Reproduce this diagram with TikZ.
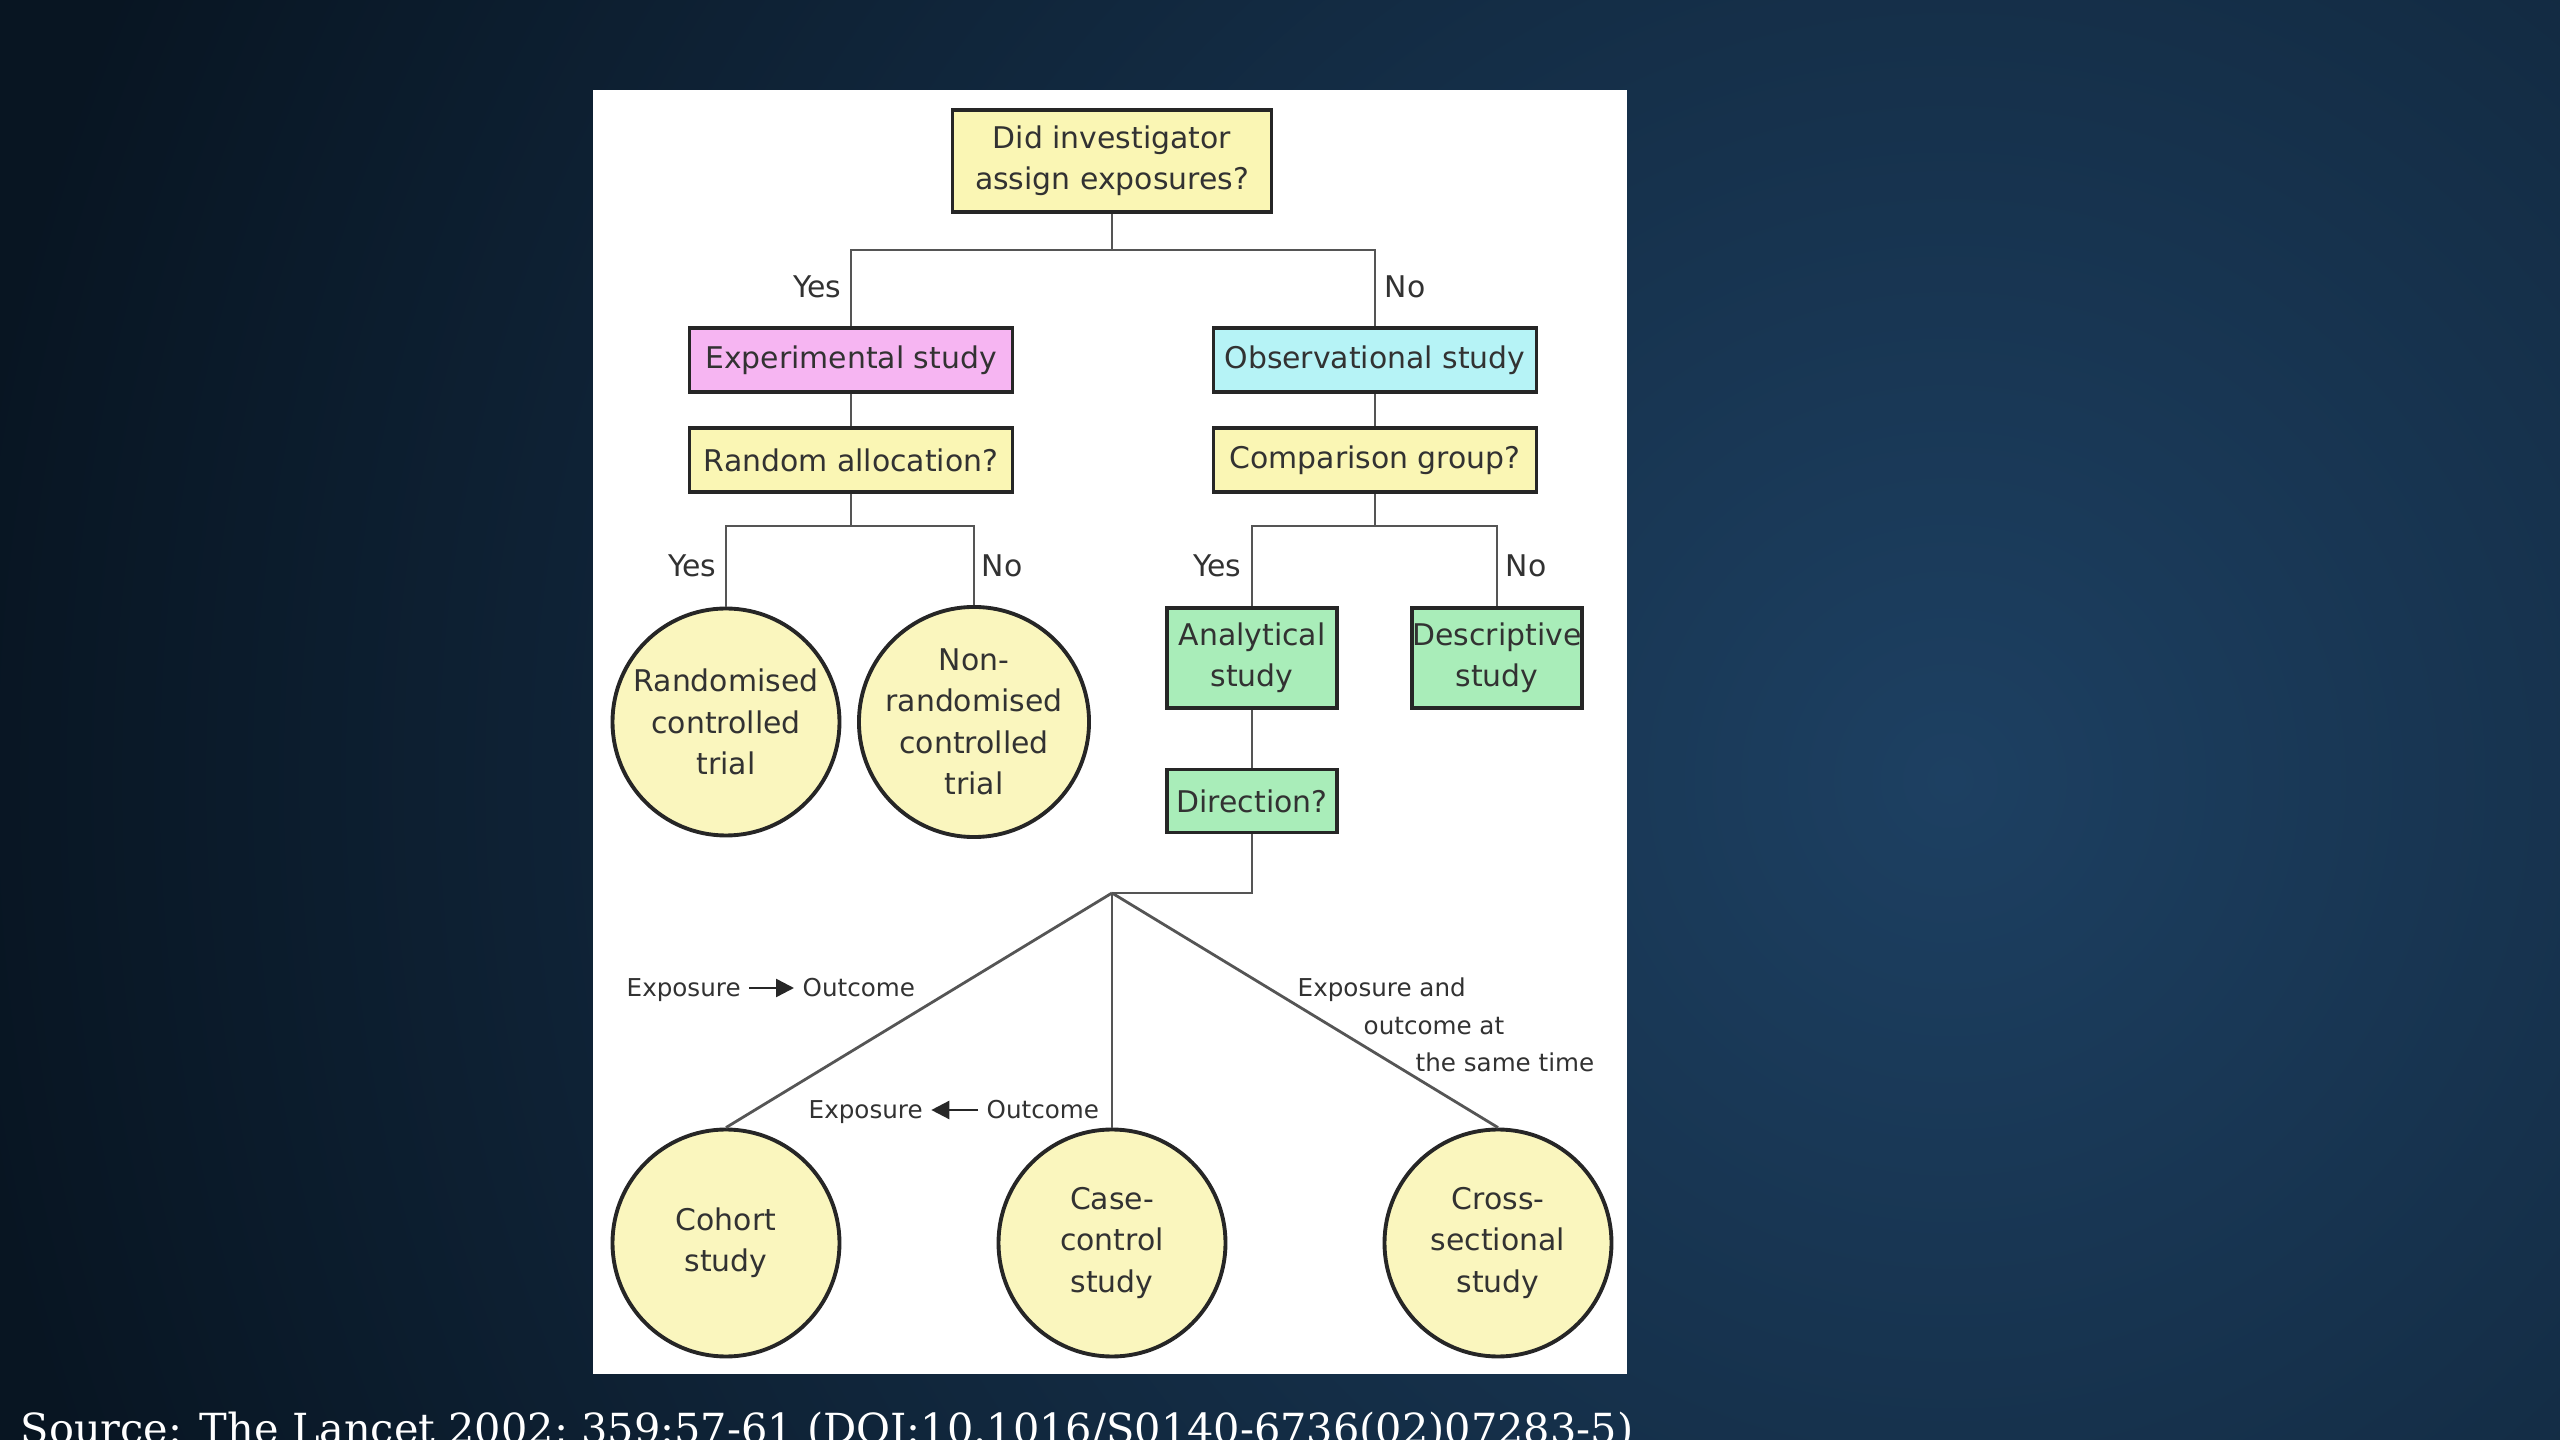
\documentclass[tikz,border=0pt]{standalone}
\usepackage{fontspec}
\usetikzlibrary{arrows.meta}
\newfontfamily\diagfont{DejaVu Sans}
\newfontfamily\srcfont{DejaVu Serif}
\newcommand\boxfont{\diagfont\fontsize{8.5}{11.8}\selectfont}
\newcommand\lblfont{\diagfont\fontsize{7}{10.4}\selectfont}
\definecolor{bgdark}{RGB}{8,21,34}
\definecolor{bglight}{RGB}{29,64,98}
\definecolor{qyellow}{RGB}{250,246,180}
\definecolor{cyellow}{RGB}{250,246,190}
\definecolor{pinkc}{RGB}{246,181,242}
\definecolor{cyanc}{RGB}{182,243,246}
\definecolor{greenc}{RGB}{169,237,185}
\definecolor{txt}{RGB}{50,50,50}
\definecolor{linec}{RGB}{85,85,85}
\tikzset{
  base/.style={draw=black!85, line width=1.1pt, text=txt, font=\boxfont, align=center, inner sep=0pt},
  wbox/.style={base, rectangle, minimum width=32.3mm, minimum height=6.4mm},
  gbox/.style={base, rectangle, fill=greenc, minimum width=17mm},
  circ/.style={base, circle, fill=cyellow, minimum size=22.7mm},
  conn/.style={draw=linec, line width=0.8pt},
  yn/.style={font=\boxfont, text=txt, inner sep=0pt},
  small/.style={font=\lblfont, text=txt, inner sep=0pt, text height=1.6ex, text depth=0.45ex},
  arr/.style={draw=black!85, line width=0.7pt, -{Triangle[length=1.8mm,width=1.8mm]}, shorten <=0.8mm, shorten >=0.8mm}
}
\begin{document}
\begin{tikzpicture}[x=0.1mm,y=-0.1mm]
\useasboundingbox (0,0) rectangle (2560,1440);
\begin{scope}
  \clip (0,0) rectangle (2560,1440);
  \fill[bgdark] (0,0) rectangle (2560,1440);
  \shade[inner color=bglight, outer color=bgdark] (1950,780) circle (2000);
\end{scope}
\fill[white] (593,90) rectangle (1627,1374);

% boxes
\node[base, fill=qyellow, minimum width=31.9mm, minimum height=10.2mm] (top) at (1112,161) {Did investigator\\assign exposures?};
\node[wbox, fill=pinkc] (exp) at (851,360) {Experimental study};
\node[wbox, fill=qyellow] (rand) at (851,460) {Random allocation?};
\node[wbox, fill=cyanc] (obs) at (1375,360) {Observational study};
\node[wbox, fill=qyellow] (comp) at (1375,460) {Comparison group?};
\node[circ] (rct) at (726,722) {Randomised\\controlled\\trial};
\node[circ] (nrct) at (974,722) {Non-\\randomised\\controlled\\trial};
\node[gbox, minimum height=10mm] (anal) at (1252,658) {Analytical\\study};
\node[gbox, minimum height=10mm] (desc) at (1497,658) {Descriptive\\study};
\node[gbox, minimum height=6.3mm] (dir) at (1252,801) {Direction?};
\node[circ] (coh) at (726,1243) {Cohort\\study};
\node[circ] (cc) at (1112,1243) {Case-\\control\\study};
\node[circ] (cs) at (1498,1243) {Cross-\\sectional\\study};

% junctions
\coordinate (j1) at (1112,250);
\coordinate (j2) at (851,526);
\coordinate (j3) at (1375,526);
\coordinate (j4) at (1112,893);

% connectors
\draw[conn] (top.south) -- (j1);
\draw[conn] (exp.north) |- (j1) -| (obs.north);
\draw[conn] (exp.south) -- (rand.north);
\draw[conn] (obs.south) -- (comp.north);
\draw[conn] (rand.south) -- (j2);
\draw[conn] (rct.north) |- (j2) -| (nrct.north);
\draw[conn] (comp.south) -- (j3);
\draw[conn] (anal.north) |- (j3) -| (desc.north);
\draw[conn] (anal.south) -- (dir.north);
\draw[conn] (dir.south) |- (j4);
\draw[conn] (j4) -- (coh.north);
\draw[conn] (j4) -- (cc.north);
\draw[conn] (j4) -- (cs.north);

% yes / no labels
\node[yn, anchor=east] (y1) at (842,287) {Yes};
\node[yn, anchor=west] (n1) at (1384,287) {No};
\node[yn, anchor=east] (y2) at (717,566) {Yes};
\node[yn, anchor=west] (n2) at (981,566) {No};
\node[yn, anchor=east] (y3) at (1242,566) {Yes};
\node[yn, anchor=west] (n3) at (1505,566) {No};

% direction labels
\node[small, anchor=west] (e1) at (626,988) {Exposure};
\node[small, anchor=west] (o1) at (802,988) {Outcome};
\draw[arr] (e1.east) -- (o1.west);
\node[small, anchor=west] (e2) at (808,1110) {Exposure};
\node[small, anchor=west] (o2) at (986,1110) {Outcome};
\draw[arr] (o2.west) -- (e2.east);
\node[small, anchor=west] (s1) at (1297,988) {Exposure and};
\node[small, anchor=west] (s2) at (1363,1026) {outcome at};
\node[small, anchor=west] (s3) at (1415,1063) {the same time};

% source
\node[anchor=base west, text=white, inner sep=0pt, font=\srcfont\fontsize{11.8}{13}\selectfont] (src) at (20,1443) {Source: The Lancet 2002; 359:57-61 (DOI:10.1016/S0140-6736(02)07283-5)};
\end{tikzpicture}
\end{document}
